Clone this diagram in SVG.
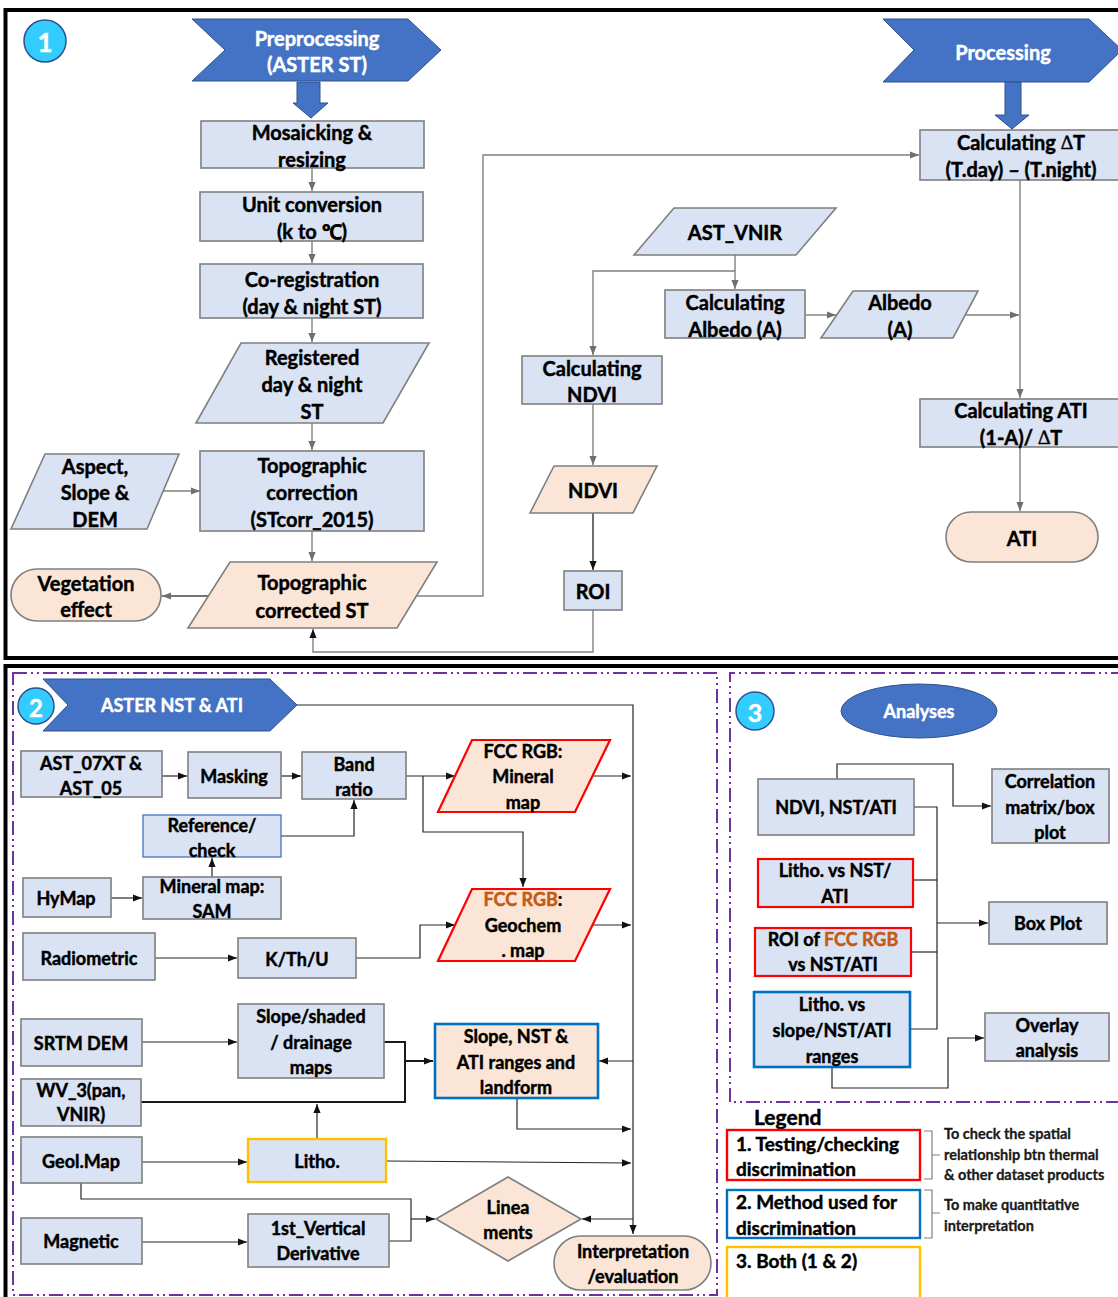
<svg xmlns="http://www.w3.org/2000/svg" width="1118" height="1297" viewBox="0 0 1118 1297">
<defs>
<style>
.box{fill:#dae3f3;stroke:#7f7f7f;stroke-width:1.6}
.pch{fill:#fbe5d6;stroke:#7f7f7f;stroke-width:1.6}
.red{stroke:#ff0000;stroke-width:2.2}
.blu{stroke:#0070c0;stroke-width:2.6}
.yel{stroke:#ffc000;stroke-width:2.4}
.chev{fill:#4472c4;stroke:#2f528f;stroke-width:1}
.num{fill:#33ccff;stroke:#2f528f;stroke-width:1.5}
.t{font-family:Lato,"Open Sans","Liberation Sans",sans-serif;font-weight:bold;font-size:20px;fill:#000;stroke:#000;stroke-width:0.45;text-anchor:middle;dominant-baseline:central}
.s{font-size:18px}
.w{fill:#fff;stroke:#fff}
.l{text-anchor:start}
.n{font-size:14.5px;fill:#1a1a1a;stroke:#1a1a1a;stroke-width:0.3}
.g{fill:none;stroke:#808080;stroke-width:1.4}
.k{fill:none;stroke:#262626;stroke-width:1.2}
.kb{fill:none;stroke:#1a1a1a;stroke-width:2}
.pur{fill:none;stroke:#7030a0;stroke-width:2;stroke-dasharray:14 4 2 4 2 4}
.or{fill:#c55a11;stroke:#c55a11}
.dl{font-family:"Liberation Serif",serif;font-weight:normal}
</style>
<marker id="ag" viewBox="0 0 10 10" refX="10" refY="5" markerWidth="9" markerHeight="9" markerUnits="userSpaceOnUse" orient="auto"><path d="M0,1 L10,5 L0,9 z" fill="#6f6f6f"/></marker>
<marker id="ak" viewBox="0 0 10 10" refX="10" refY="5" markerWidth="9" markerHeight="9" markerUnits="userSpaceOnUse" orient="auto"><path d="M0,1 L10,5 L0,9 z" fill="#111"/></marker>
</defs>
<rect width="1118" height="1297" fill="#fff"/>

<!-- panel borders -->
<g id="frames">
<rect x="5.5" y="10" width="1120" height="648" fill="none" stroke="#000" stroke-width="4"/>
<path d="M5.5,1300 V666 H1125" fill="none" stroke="#000" stroke-width="4"/>
<rect x="13" y="673" width="704" height="622" class="pur"/>
<path d="M1125,673 H730 V1102 H1125" class="pur"/>
</g>

<!-- connectors -->
<g id="connectors">
<g class="g">
<path d="M312,168 V191" marker-end="url(#ag)"/>
<path d="M312,241 V263" marker-end="url(#ag)"/>
<path d="M312,318 V342" marker-end="url(#ag)"/>
<path d="M312,423 V450" marker-end="url(#ag)"/>
<path d="M163,491 H200" marker-end="url(#ag)"/>
<path d="M312,531 V561" marker-end="url(#ag)"/>
<path d="M210,596 H162" marker-end="url(#ag)" style="stroke:#444"/>
<path d="M416,596 H483 V155 H919" marker-end="url(#ag)"/>
<path d="M735,255 V289" marker-end="url(#ag)"/>
<path d="M735,271 H593 V355" marker-end="url(#ag)"/>
<path d="M805,315 H836" marker-end="url(#ag)"/>
<path d="M965,315 H1019" marker-end="url(#ag)"/>
<path d="M1020,180 V398" marker-end="url(#ag)"/>
<path d="M593,404 V465" marker-end="url(#ag)"/>
<path d="M593,513 V570" marker-end="url(#ak)" style="stroke:#333"/>
<path d="M593,610 V652 H313 V629" marker-end="url(#ak)"/>
<path d="M1020,447 V511" marker-end="url(#ag)"/>
</g>
<g class="k">
<path d="M162,776 H187" marker-end="url(#ak)"/>
<path d="M281,776 H301" marker-end="url(#ak)"/>
<path d="M406,776 H455" marker-end="url(#ak)"/>
<path d="M423,776 V832 H523 V887" marker-end="url(#ak)"/>
<path d="M592,776 H631" marker-end="url(#ak)"/>
<path d="M592,925 H631" marker-end="url(#ak)"/>
<path d="M281,836 H354 V800" marker-end="url(#ak)"/>
<path d="M212,877 V858" marker-end="url(#ak)"/>
<path d="M111,898 H142" marker-end="url(#ak)"/>
<path d="M155,958 H237" marker-end="url(#ak)"/>
<path d="M356,958 H420 V925 H455" marker-end="url(#ak)"/>
<path d="M297,705 H633 V1234" marker-end="url(#ak)"/>
<path d="M142,1042 H237" marker-end="url(#ak)"/>
<path d="M633,1061 H599" marker-end="url(#ak)"/>
<path d="M517,1098 V1129 H631" marker-end="url(#ak)"/>
<path d="M317,1139 V1104" marker-end="url(#ak)"/>
<path d="M142,1162 H247" marker-end="url(#ak)"/>
<path d="M386,1161 L631,1163" marker-end="url(#ak)"/>
<path d="M81,1183 V1199 H411 V1241 H389"/>
<path d="M411,1219 H435" marker-end="url(#ak)"/>
<path d="M633,1219 H582" marker-end="url(#ak)"/>
<path d="M142,1242 H247" marker-end="url(#ak)"/>
<path d="M837,779 V764 H953 V806 H991" marker-end="url(#ak)"/>
<path d="M914,807 H937 V1029 H911"/>
<path d="M912,880 H937"/>
<path d="M912,952 H937"/>
<path d="M937,923 H988" marker-end="url(#ak)"/>
<path d="M832,1067 V1088 H948 V1038 H984" marker-end="url(#ak)"/>
</g>
<g class="kb">
<path d="M384,1042 H405 V1102 H141"/>
<path d="M405,1061 H433" marker-end="url(#ak)"/>
</g>
<g fill="none" stroke="#808080" stroke-width="1.2">
<path d="M924,1131 H932 V1179 H924 M932,1155 H940"/>
<path d="M924,1190 H932 V1238 H924 M932,1213 H940"/>
</g>
</g>

<!-- panel 1 -->
<g id="n1-badge"><circle cx="45" cy="41" r="21" class="num"/><text x="45" y="42" class="t w" style="font-size:26px">1</text></g>
<g id="n-preprocessing">
<polygon points="192,19 408,19 441,50 408,81 192,81 225,50" class="chev"/>
<text x="317" y="38" class="t w">Preprocessing</text>
<text x="317" y="64" class="t w">(ASTER ST)</text>
<polygon points="297,82 320,82 320,103 328,103 311,118 293,103 297,103" fill="#4472c4" stroke="#2f528f" stroke-width="1"/>
</g>
<g id="n-processing">
<polygon points="883,19 1089,19 1122,50 1089,82 883,82 914,50" class="chev"/>
<text x="1003" y="52" class="t w">Processing</text>
<polygon points="1005,82 1021,82 1021,115 1029,115 1012,129 995,115 1005,115" fill="#4472c4" stroke="#2f528f" stroke-width="1"/>
</g>
<g id="n-mosaic"><rect x="201" y="121" width="223" height="47" class="box"/><text x="312" y="132" class="t">Mosaicking &amp;</text><text x="312" y="159" class="t">resizing</text></g>
<g id="n-unit"><rect x="200" y="192" width="223" height="49" class="box"/><text x="312" y="204" class="t">Unit conversion</text><text x="312" y="231" class="t">(k to ℃)</text></g>
<g id="n-coreg"><rect x="200" y="264" width="223" height="54" class="box"/><text x="312" y="279" class="t">Co-registration</text><text x="312" y="306" class="t">(day &amp; night ST)</text></g>
<g id="n-registered"><polygon points="241,343 429,343 383,423 196,423" class="box"/><text x="312" y="357" class="t">Registered</text><text x="312" y="384" class="t">day &amp; night</text><text x="312" y="411" class="t">ST</text></g>
<g id="n-aspect"><polygon points="45,454 179,454 147,529 11,529" class="box"/><text x="95" y="466" class="t">Aspect,</text><text x="95" y="492" class="t">Slope &amp;</text><text x="95" y="519" class="t">DEM</text></g>
<g id="n-topocorr"><rect x="200" y="451" width="224" height="80" class="box"/><text x="312" y="465" class="t">Topographic</text><text x="312" y="492" class="t">correction</text><text x="312" y="519" class="t">(STcorr_2015)</text></g>
<g id="n-topost"><polygon points="230,562 437,562 397,628 188,628" class="pch"/><text x="312" y="582" class="t">Topographic</text><text x="312" y="610" class="t">corrected ST</text></g>
<g id="n-veg"><rect x="11" y="569" width="150" height="52" rx="26" class="pch"/><text x="86" y="583" class="t">Vegetation</text><text x="86" y="609" class="t">effect</text></g>
<g id="n-dT"><rect x="920" y="130" width="202" height="50" class="box"/><text x="1021" y="142" class="t">Calculating <tspan class="dl">∆</tspan>T</text><text x="1021" y="169" class="t">(T.day) – (T.night)</text></g>
<g id="n-vnir"><polygon points="674,208 836,208 796,255 634,255" class="box"/><text x="735" y="232" class="t">AST_VNIR</text></g>
<g id="n-calbedo"><rect x="665" y="290" width="140" height="48" class="box"/><text x="735" y="302" class="t">Calculating</text><text x="735" y="329" class="t">Albedo (A)</text></g>
<g id="n-albedo"><polygon points="853,291 978,291 953,338 821,338" class="box"/><text x="900" y="302" class="t">Albedo</text><text x="900" y="329" class="t">(A)</text></g>
<g id="n-cndvi"><rect x="522" y="356" width="140" height="48" class="box"/><text x="592" y="368" class="t">Calculating</text><text x="592" y="394" class="t">NDVI</text></g>
<g id="n-ndvi"><polygon points="554,466 657,466 633,513 530,513" class="pch"/><text x="593" y="490" class="t">NDVI</text></g>
<g id="n-roi"><rect x="564" y="571" width="58" height="39" class="box"/><text x="593" y="591" class="t">ROI</text></g>
<g id="n-cati"><rect x="920" y="399" width="202" height="48" class="box"/><text x="1021" y="410" class="t">Calculating ATI</text><text x="1021" y="437" class="t">(1-A)/ <tspan class="dl">∆</tspan>T</text></g>
<g id="n-ati"><rect x="946" y="512" width="152" height="50" rx="25" class="pch"/><text x="1022" y="538" class="t">ATI</text></g>

<!-- panel 2 -->
<g id="n2-badge"><circle cx="36" cy="706" r="18" class="num"/><text x="36" y="707" class="t w" style="font-size:24px">2</text></g>
<g id="n-aster"><polygon points="43,679 270,679 297,705 270,731 43,731 68,705" class="chev"/><text x="172" y="705" class="t w s">ASTER NST &amp; ATI</text></g>
<g id="n-ast07"><rect x="21" y="751" width="141" height="46" class="box"/><text x="91" y="763" class="t s">AST_07XT &amp;</text><text x="91" y="788" class="t s">AST_05</text></g>
<g id="n-mask"><rect x="188" y="752" width="93" height="46" class="box"/><text x="234" y="776" class="t s">Masking</text></g>
<g id="n-band"><rect x="302" y="752" width="104" height="47" class="box"/><text x="354" y="764" class="t s">Band</text><text x="354" y="789" class="t s">ratio</text></g>
<g id="n-ref"><rect x="143" y="815" width="138" height="42" class="box" style="stroke:#4472c4;stroke-width:1.3"/><text x="212" y="825" class="t s">Reference/</text><text x="212" y="850" class="t s">check</text></g>
<g id="n-hymap"><rect x="23" y="878" width="88" height="39" class="box"/><text x="66" y="898" class="t s">HyMap</text></g>
<g id="n-sam"><rect x="143" y="877" width="138" height="42" class="box"/><text x="212" y="886" class="t s">Mineral map:</text><text x="212" y="911" class="t s">SAM</text></g>
<g id="n-radio"><rect x="23" y="933" width="132" height="47" class="box"/><text x="89" y="958" class="t s">Radiometric</text></g>
<g id="n-kthu"><rect x="238" y="938" width="118" height="40" class="box"/><text x="297" y="959" class="t s">K/Th/U</text></g>
<g id="n-fccmin"><polygon points="472,740 610,740 575,812 438,812" class="pch red"/><text x="523" y="751" class="t s">FCC RGB:</text><text x="523" y="776" class="t s">Mineral</text><text x="523" y="802" class="t s">map</text></g>
<g id="n-fccgeo"><polygon points="472,889 610,889 575,961 438,961" class="pch red"/><text x="523" y="899" class="t s"><tspan class="or">FCC RGB</tspan>:</text><text x="523" y="925" class="t s">Geochem</text><text x="523" y="950" class="t s">. map</text></g>
<g id="n-srtm"><rect x="21" y="1019" width="121" height="47" class="box"/><text x="81" y="1043" class="t s">SRTM DEM</text></g>
<g id="n-slopemaps"><rect x="238" y="1004" width="146" height="74" class="box"/><text x="311" y="1016" class="t s">Slope/shaded</text><text x="311" y="1042" class="t s">/ drainage</text><text x="311" y="1067" class="t s">maps</text></g>
<g id="n-wv3"><rect x="21" y="1079" width="120" height="47" class="box"/><text x="81" y="1090" class="t s">WV_3(pan,</text><text x="81" y="1114" class="t s">VNIR)</text></g>
<g id="n-ranges"><rect x="435" y="1024" width="163" height="74" class="pch blu"/><text x="516" y="1036" class="t s">Slope, NST &amp;</text><text x="516" y="1062" class="t s">ATI ranges and</text><text x="516" y="1087" class="t s">landform</text></g>
<g id="n-geol"><rect x="21" y="1137" width="121" height="46" class="box"/><text x="81" y="1161" class="t s">Geol.Map</text></g>
<g id="n-litho"><rect x="248" y="1139" width="138" height="43" class="box yel"/><text x="317" y="1161" class="t s">Litho.</text></g>
<g id="n-mag"><rect x="21" y="1218" width="121" height="46" class="box"/><text x="81" y="1241" class="t s">Magnetic</text></g>
<g id="n-1vd"><rect x="248" y="1214" width="141" height="53" class="box"/><text x="318" y="1228" class="t s">1st_Vertical</text><text x="318" y="1253" class="t s">Derivative</text></g>
<g id="n-linea"><polygon points="436,1219 508,1177 581,1219 508,1261" class="pch"/><text x="508" y="1207" class="t s">Linea</text><text x="508" y="1232" class="t s">ments</text></g>
<g id="n-interp"><rect x="554" y="1236" width="157" height="54" rx="27" class="pch"/><text x="633" y="1251" class="t s">Interpretation</text><text x="633" y="1276" class="t s">/evaluation</text></g>

<!-- panel 3 -->
<g id="n3-badge"><circle cx="755" cy="711" r="19" class="num"/><text x="755" y="712" class="t w" style="font-size:25px">3</text></g>
<g id="n-analyses"><ellipse cx="919" cy="711" rx="78" ry="27" fill="#4472c4" stroke="#2f528f" stroke-width="1"/><text x="919" y="711" class="t w s">Analyses</text></g>
<g id="n-ndvinst"><rect x="758" y="779" width="156" height="56" class="box"/><text x="836" y="807" class="t s">NDVI, NST/ATI</text></g>
<g id="n-corr"><rect x="992" y="769" width="117" height="74" class="box"/><text x="1050" y="781" class="t s">Correlation</text><text x="1050" y="807" class="t s">matrix/box</text><text x="1050" y="832" class="t s">plot</text></g>
<g id="n-lithonst"><rect x="758" y="859" width="155" height="48" class="box red"/><text x="835" y="870" class="t s">Litho. vs NST/</text><text x="835" y="896" class="t s">ATI</text></g>
<g id="n-roifcc"><rect x="755" y="928" width="156" height="48" class="box red"/><text x="833" y="939" class="t s">ROI of <tspan class="or">FCC RGB</tspan></text><text x="833" y="964" class="t s">vs NST/ATI</text></g>
<g id="n-boxplot"><rect x="989" y="902" width="118" height="42" class="box"/><text x="1048" y="923" class="t s">Box Plot</text></g>
<g id="n-lithoslope"><rect x="754" y="992" width="156" height="75" class="box blu"/><text x="832" y="1004" class="t s">Litho. vs</text><text x="832" y="1030" class="t s">slope/NST/ATI</text><text x="832" y="1056" class="t s">ranges</text></g>
<g id="n-overlay"><rect x="985" y="1013" width="124" height="48" class="box"/><text x="1047" y="1025" class="t s">Overlay</text><text x="1047" y="1050" class="t s">analysis</text></g>

<!-- legend -->
<g id="legend">
<text x="754" y="1116" class="t l" style="font-size:21px">Legend</text>
<rect x="727" y="1130" width="193" height="50" fill="#fff" stroke="#ff0000" stroke-width="2.4"/>
<text x="736" y="1143" class="t l" style="font-size:19px">1. Testing/checking</text>
<text x="736" y="1168" class="t l" style="font-size:19px">discrimination</text>
<rect x="727" y="1190" width="193" height="48" fill="#fff" stroke="#0070c0" stroke-width="2.4"/>
<text x="736" y="1201" class="t l" style="font-size:19px">2. Method used for</text>
<text x="736" y="1227" class="t l" style="font-size:19px">discrimination</text>
<rect x="727" y="1247" width="193" height="52" fill="#fff" stroke="#ffc000" stroke-width="2.4"/>
<text x="736" y="1260" class="t l" style="font-size:19px">3. Both (1 &amp; 2)</text>
<text x="944" y="1133" class="t l n">To check the spatial</text>
<text x="944" y="1154" class="t l n">relationship btn thermal</text>
<text x="944" y="1174" class="t l n">&amp; other dataset products</text>
<text x="944" y="1204" class="t l n">To make quantitative</text>
<text x="944" y="1225" class="t l n">interpretation</text>
</g>
</svg>
